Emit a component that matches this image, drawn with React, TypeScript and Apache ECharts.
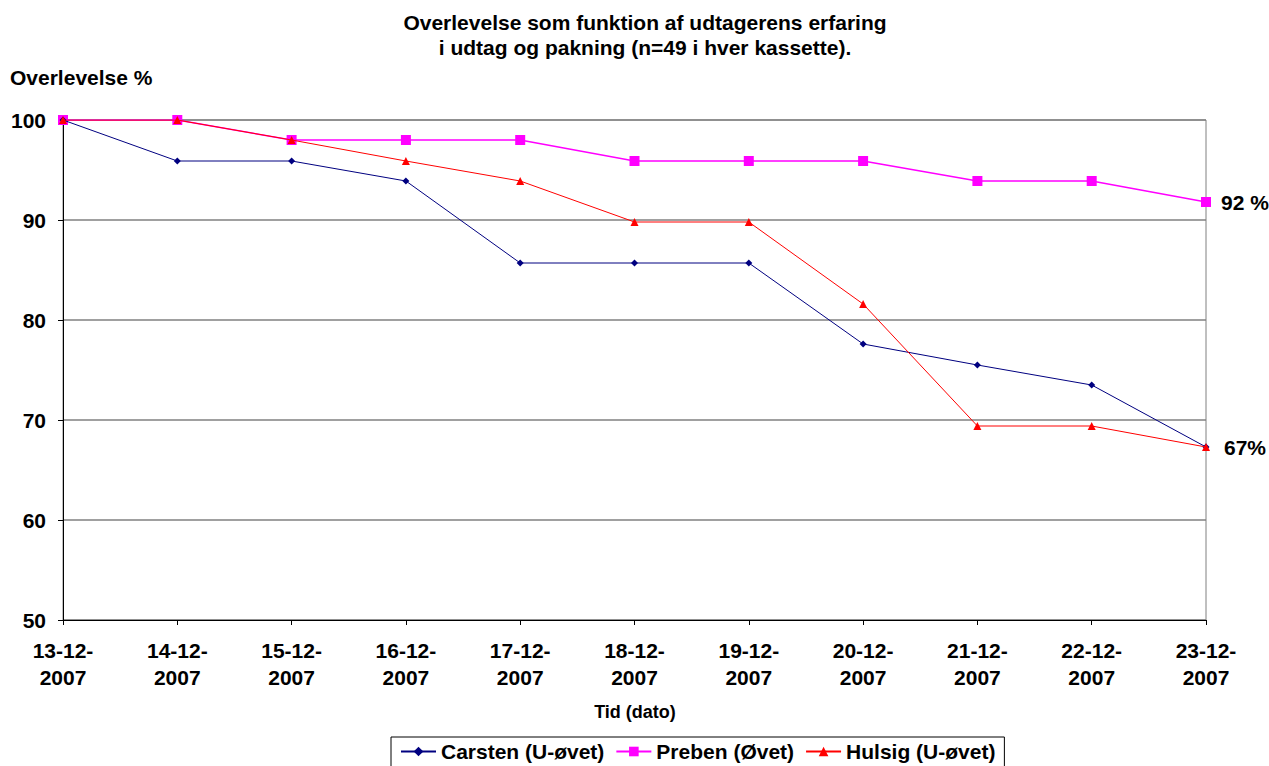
import React, { useEffect, useRef } from "react";
import * as echarts from "echarts";

const categories = [
  "13-12-2007", "14-12-2007", "15-12-2007", "16-12-2007", "17-12-2007", "18-12-2007",
  "19-12-2007", "20-12-2007", "21-12-2007", "22-12-2007", "23-12-2007",
];
const carsten = [100, 95.9, 95.9, 93.9, 85.7, 85.7, 85.7, 77.6, 75.5, 73.5, 67.3];
const preben = [100, 100, 98.0, 98.0, 98.0, 95.9, 95.9, 95.9, 93.9, 93.9, 91.8];
const hulsig = [100, 100, 98.0, 95.9, 93.9, 89.8, 89.8, 81.6, 69.4, 69.4, 67.3];
const endLabelPreben = "92 %";
const endLabelHulsig = "67%";

const FONT = "Liberation Sans, Arial, sans-serif";

function withEndLabel(values: number[], text: string | null, distance: number) {
  return values.map((v, i) => {
    if (i === values.length - 1 && text) {
      return {
        value: v,
        label: {
          show: true,
          position: "right",
          distance,
          formatter: text,
          fontFamily: FONT,
          fontWeight: "bold",
          fontSize: 21,
          color: "#000",
        },
      };
    }
    return v;
  });
}

export default function App() {
  const ref = useRef<HTMLDivElement>(null);
  useEffect(() => {
    if (!ref.current) return;
    const chart = echarts.init(ref.current, null, { renderer: "svg" });
    chart.setOption({
      animation: false,
      backgroundColor: "#fff",
      textStyle: { fontFamily: FONT },
      title: {
        text: "Overlevelse som funktion af udtagerens erfaring\ni udtag og pakning (n=49 i hver kassette).",
        left: 640,
        top: 5,
        textAlign: "center",
        textStyle: { fontFamily: FONT, fontWeight: "bold", fontSize: 21, lineHeight: 25, color: "#000" },
      },
      graphic: [
        {
          type: "text",
          x: 10,
          y: 77,
          style: {
            text: "Overlevelse %",
            font: `bold 21px ${FONT}`,
            fill: "#000",
            verticalAlign: "middle",
          },
        },
        {
          type: "text",
          x: 635,
          y: 712,
          style: {
            text: "Tid (dato)",
            font: `bold 18px ${FONT}`,
            fill: "#000",
            align: "center",
            verticalAlign: "middle",
          },
        },
      ],
      grid: {
        left: 63,
        right: 63,
        top: 120,
        bottom: 146,
        show: true,
        borderColor: "#808080",
        borderWidth: 1,
      },
      legend: {
        top: 737,
        left: 391,
        itemWidth: 35,
        itemHeight: 12,
        itemGap: 11,
        padding: [4, 9, 8, 9],
        borderColor: "#000",
        borderWidth: 1,
        textStyle: { fontFamily: FONT, fontWeight: "bold", fontSize: 21, color: "#000" },
        data: ["Carsten (U-øvet)", "Preben (Øvet)", "Hulsig (U-øvet)"],
      },
      xAxis: {
        type: "category",
        data: categories,
        boundaryGap: false,
        axisLine: { lineStyle: { color: "#000", width: 1 } },
        axisTick: { show: true, length: 5, lineStyle: { color: "#000" } },
        axisLabel: {
          fontFamily: FONT,
          fontWeight: "bold",
          fontSize: 21,
          color: "#000",
          margin: 17,
          lineHeight: 27,
          interval: 0,
          formatter: (v: string) => v.slice(0, 6) + "\n" + v.slice(6),
        },
      },
      yAxis: {
        type: "value",
        min: 50,
        max: 100,
        interval: 10,
        axisLine: { show: true, lineStyle: { color: "#000", width: 1 } },
        axisTick: { show: true, length: 5, lineStyle: { color: "#000" } },
        axisLabel: { fontFamily: FONT, fontWeight: "bold", fontSize: 21, color: "#000", margin: 17 },
        splitLine: { lineStyle: { color: "#808080", width: 1.5 } },
      },
      series: [
        {
          name: "Carsten (U-øvet)",
          type: "line",
          data: withEndLabel(carsten, null, 0),
          symbol: "diamond",
          symbolSize: 7,
          itemStyle: { color: "#000080" },
          lineStyle: { color: "#000080", width: 1 },
          z: 3,
        },
        {
          name: "Preben (Øvet)",
          type: "line",
          data: withEndLabel(preben, endLabelPreben, 10),
          symbol: "rect",
          symbolSize: 10,
          itemStyle: { color: "#FF00FF" },
          lineStyle: { color: "#FF00FF", width: 1.5 },
          z: 2,
        },
        {
          name: "Hulsig (U-øvet)",
          type: "line",
          data: withEndLabel(hulsig, endLabelHulsig, 14),
          symbol: "triangle",
          symbolSize: 8,
          itemStyle: { color: "#FF0000" },
          lineStyle: { color: "#FF0000", width: 1 },
          z: 4,
        },
      ],
    });
    return () => chart.dispose();
  }, []);
  return (
    <div
      ref={ref}
      style={{ position: "absolute", left: 0, top: 0, width: 1269, height: 766 }}
    />
  );
}
